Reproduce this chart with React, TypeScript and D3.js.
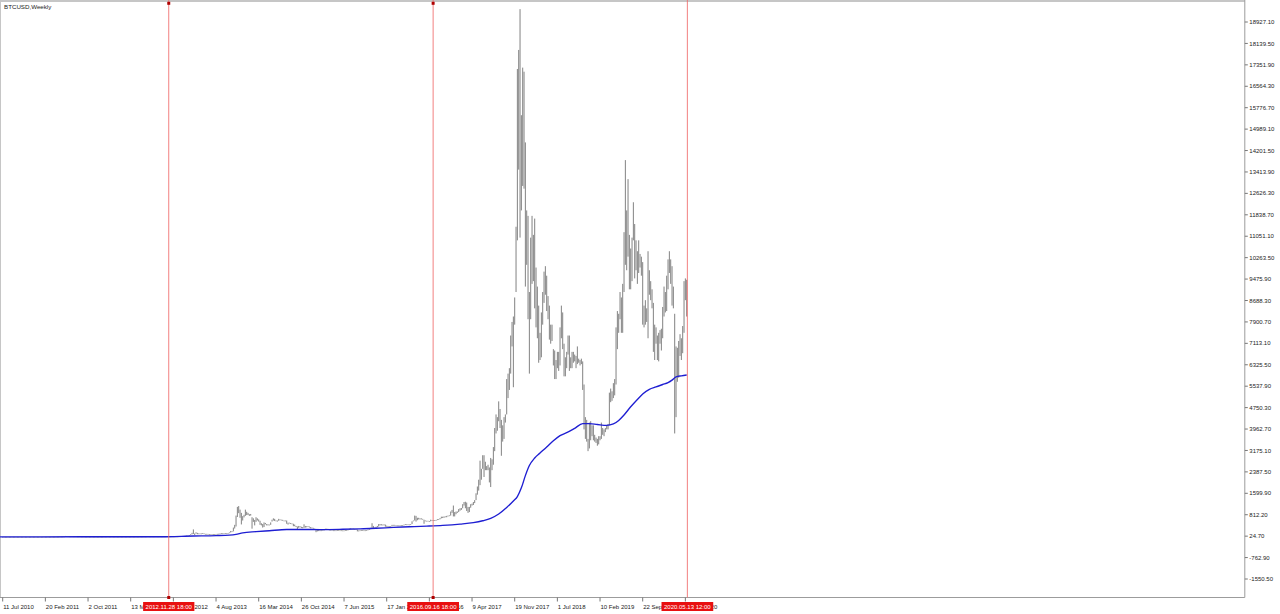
import React, { useEffect, useRef } from 'react';
import * as d3 from 'd3';

// weekly bars, [low, high] in USD, one pair per week (weeks start on Sunday)
const firstWeek = '11 Jul 2010';

const weeks2010: [number, number][] = [
  [0.05, 0.09], [0.06, 0.08], [0.06, 0.07],
  [0.06, 0.07], [0.06, 0.07], [0.06, 0.07], [0.06, 0.07], [0.06, 0.07],
  [0.06, 0.07], [0.06, 0.07], [0.06, 0.07], [0.06, 0.07],
  [0.06, 0.07], [0.07, 0.11], [0.09, 0.11], [0.1, 0.19], [0.17, 0.19],
  [0.19, 0.39], [0.21, 0.28], [0.26, 0.29], [0.22, 0.28],
  [0.19, 0.23], [0.2, 0.24], [0.24, 0.27], [0.25, 0.3],
];

const weeks2011: [number, number][] = [
  [0.29, 0.32], [0.31, 0.4], [0.38, 0.42], [0.42, 0.47], [0.45, 0.55],
  [0.7, 0.95], [0.95, 1.1], [0.8, 0.96], [0.86, 0.95],
  [0.86, 0.9], [0.75, 0.9], [0.78, 0.85], [0.77, 0.82],
  [0.68, 0.79], [0.7, 1.0], [1.0, 1.3], [1.5, 3.5],
  [3.0, 4.0], [3.6, 6.0], [6.5, 8.4], [6.5, 8.8], [8.4, 10.5],
  [14, 31.9], [15, 29], [10, 20], [13, 17],
  [13, 15.5], [14, 15.5], [13, 14.6], [13.3, 14.5], [12.8, 14],
  [7, 11], [9.5, 11.5], [8.5, 11], [8.2, 9],
  [6.4, 8.5], [4.5, 7], [4.6, 6.3], [4.6, 5.3],
  [4.8, 5.2], [3.8, 4.5], [2.4, 4.3], [2.6, 3.6], [3.1, 3.4],
  [2.8, 3.1], [2.1, 3.0], [2.1, 2.6], [2.3, 3.1],
  [2.9, 3.2], [3.0, 3.4], [3.6, 4.0], [4.0, 4.8],
];

const weeks2012: [number, number][] = [
  [4.7, 6.9], [6.4, 7.1], [5.9, 7], [5.8, 6.4], [5.4, 6.2],
  [5.5, 6.0], [4.2, 5.7], [4.2, 5.2], [4.7, 5.1],
  [4.6, 5.0], [4.8, 5.4], [4.6, 5.0], [4.7, 4.9],
  [4.8, 5.0], [4.8, 5.0], [4.9, 5.2], [5.0, 5.2], [4.9, 5.1],
  [5.0, 5.2], [4.9, 5.1], [5.0, 5.2], [5.1, 5.3],
  [5.2, 5.6], [5.5, 5.9], [6.2, 6.8], [6.4, 6.7],
  [6.6, 7.0], [6.9, 7.6], [7.6, 8.9], [8.4, 9.0], [8.9, 9.4],
  [10, 11], [11.1, 13.5], [7.5, 13.0], [10, 11],
  [10.2, 11], [10.9, 11.4], [11.5, 12.3], [12.0, 12.5], [12.1, 12.8],
  [11.4, 12.1], [11.4, 12], [11.4, 11.9], [10.5, 11.3],
  [10.5, 10.9], [10.8, 11.4], [11.5, 12.0], [12.0, 12.5],
  [12.4, 13.6], [13.2, 13.6], [13.0, 13.4], [13.3, 13.5], [13.3, 13.6],
];

const weeks2013: [number, number][] = [
  [13.4, 14.3], [14.0, 15.6], [15.5, 18.9], [17.1, 20.4],
  [19.6, 22.5], [22.1, 25.5], [24.5, 30.1], [29.4, 34.4],
  [33, 46.9], [42, 48], [44, 64], [64, 95], [92, 147],
  [105, 272], [65, 125], [115, 165], [95, 145],
  [100, 125], [105, 125], [115, 125], [120, 135],
  [112, 128], [96, 110], [97, 110], [90, 108], [65, 98],
  [68, 90], [88, 100], [86, 98], [89, 99],
  [92, 106], [100, 110], [100, 114], [110, 125],
  [118, 140], [118, 130], [120, 130], [122, 136], [110, 130],
  [120, 135], [135, 162], [160, 215], [180, 205],
  [200, 340], [305, 440], [380, 780], [730, 1100],
  [870, 1130], [700, 1000], [455, 880], [600, 760], [715, 810],
];

const weeks2014: [number, number][] = [
  [770, 1000], [800, 920], [800, 880], [770, 830],
  [780, 840], [300, 720], [550, 680], [420, 620],
  [550, 720], [600, 680], [560, 640], [440, 590], [420, 500],
  [340, 470], [360, 530], [460, 510], [420, 470],
  [420, 460], [430, 450], [440, 530], [560, 630],
  [600, 680], [580, 660], [570, 600], [560, 600], [590, 660],
  [610, 640], [610, 630], [590, 625], [570, 600],
  [570, 600], [480, 600], [450, 520], [490, 520], [470, 510],
  [460, 490], [390, 480], [390, 450], [360, 400],
  [280, 380], [330, 400], [350, 390], [320, 370],
  [315, 360], [330, 460], [340, 400], [350, 390], [360, 390],
  [340, 380], [310, 360], [310, 340], [310, 330],
];

const weeks2015: [number, number][] = [
  [260, 300], [170, 280], [200, 260], [210, 260],
  [210, 245], [215, 240], [230, 260], [230, 260],
  [250, 300], [260, 300], [250, 295], [235, 270], [240, 260],
  [240, 260], [215, 240], [215, 240], [220, 240],
  [230, 245], [235, 245], [230, 240], [230, 240], [220, 235],
  [220, 235], [230, 250], [240, 250], [245, 265],
  [255, 300], [270, 315], [270, 300], [280, 300],
  [270, 290], [260, 285], [200, 270], [200, 235], [225, 240],
  [230, 245], [225, 245], [225, 240], [235, 240],
  [235, 250], [245, 270], [260, 285], [280, 330],
  [330, 500], [310, 400], [315, 340], [320, 370], [350, 400],
  [380, 470], [420, 470], [420, 465], [420, 450],
];

const weeks2016: [number, number][] = [
  [420, 460], [370, 450], [370, 410], [360, 400], [360, 390],
  [370, 390], [390, 440], [410, 440], [410, 440],
  [410, 425], [405, 420], [410, 420], [410, 425],
  [415, 425], [420, 430], [425, 450], [440, 470],
  [440, 460], [440, 460], [440, 455], [440, 470], [470, 570],
  [570, 600], [600, 780], [560, 770], [610, 700],
  [640, 700], [640, 680], [640, 680], [640, 660], [480, 630],
  [570, 600], [570, 590], [570, 590], [570, 580],
  [570, 630], [600, 620], [590, 610], [600, 615],
  [605, 620], [615, 650], [625, 650], [645, 690], [680, 740],
  [690, 740], [700, 750], [720, 750], [720, 770],
  [750, 780], [760, 790], [780, 930], [880, 990],
];

const weeks2017: [number, number][] = [
  [750, 1150], [750, 910], [830, 930], [880, 930], [910, 1020],
  [960, 1050], [990, 1060], [1050, 1200], [1150, 1280],
  [1050, 1290], [950, 1260], [880, 1100], [910, 1100],
  [1070, 1200], [1150, 1220], [1170, 1280], [1240, 1350], [1350, 1600],
  [1550, 1850], [1700, 2100], [1900, 2800], [2100, 2500],
  [2500, 3000], [2200, 3000], [2450, 2760], [2450, 2600],
  [2450, 2650], [2000, 2550], [1830, 2900], [2450, 2850], [2650, 3300],
  [3150, 4000], [3800, 4500], [3900, 4400], [4250, 4980],
  [4000, 4700], [2980, 4300], [3500, 4100], [3600, 4400],
  [4200, 4500], [4500, 5800], [5100, 6000], [5400, 6200], [6000, 7400],
  [7000, 7900], [5500, 8100], [7800, 8800], [9000, 11400],
  [10900, 17200], [13500, 17900], [11000, 19400], [12000, 15500],
];

const weeks2018: [number, number][] = [
  [12900, 17250], [12800, 17100], [9200, 14500], [10000, 12000], [8000, 11800],
  [6000, 9000], [8000, 11000], [9300, 11800], [9400, 11100],
  [8400, 11700], [7700, 9900], [7300, 9200], [6400, 8500],
  [6500, 7500], [6600, 8250], [7800, 9000], [8600, 9750], [8900, 9950],
  [8300, 9600], [8000, 8850], [7250, 8500], [7100, 7800],
  [7200, 7800], [6300, 6900], [5800, 6850], [5800, 6500],
  [6200, 6800], [6100, 6800], [6300, 7700], [7300, 8500], [6900, 8250],
  [5900, 7100], [5900, 6600], [6200, 6800], [6700, 7400],
  [6100, 7400], [6200, 6600], [6200, 6800], [6400, 6800], [6450, 6700],
  [6200, 6650], [6350, 7000], [6400, 6550], [6300, 6500],
  [6350, 6550], [5400, 6450], [3950, 5600], [3600, 4400],
  [3500, 4300], [3150, 3600], [3250, 4200], [3550, 4250],
];

const weeks2019: [number, number][] = [
  [3700, 4100], [3550, 4100], [3500, 3750], [3450, 3650], [3350, 3600],
  [3400, 3700], [3550, 3700], [3600, 4200], [3750, 4000],
  [3700, 3950], [3850, 4000], [3950, 4100], [3950, 4150],
  [4100, 5300], [4950, 5450], [5000, 5350], [5100, 5650],
  [5200, 5800], [5600, 7700], [6900, 8300], [7500, 8200], [8000, 9000],
  [7500, 8800], [7500, 9300], [9000, 11200], [10000, 13850],
  [9800, 12000], [10300, 13150], [9100, 11100], [9100, 10600],
  [9400, 11000], [10900, 12300], [9500, 11500], [9800, 10900], [9300, 10500],
  [9700, 10900], [9900, 10400], [9600, 10300], [7800, 10100],
  [7700, 8500], [7800, 8700], [7900, 8400], [7300, 10500],
  [8900, 9800], [8700, 9400], [8400, 9100], [6800, 8600],
  [6500, 7800], [7100, 7700], [6500, 7400], [6450, 7500], [7100, 7600],
];

const weeks2020: [number, number][] = [
  [6850, 7650], [7300, 8450], [8100, 9200], [8250, 9000], [8300, 9600],
  [9100, 10200], [9700, 10500], [9300, 10200], [8500, 9950],
  [8400, 9200], [3800, 8200], [4400, 7000], [5700, 6950],
  [5850, 7200], [6650, 7450], [6500, 7300], [6750, 7750], [7500, 9400],
  [8700, 9500], [8100, 9450],
];

// blue moving average, read at a few weeks (week number counted from firstWeek)
const maWeek = [
  -2, 60, 118, 143, 160, 170, 175, 180, 190, 200, 213, 225, 238, 255, 268, 280,
  293, 305, 318, 330, 343, 353, 360, 366, 372, 378, 383, 386, 389, 392, 395,
  399, 403, 408, 413, 418, 423, 429, 435, 440, 446, 453, 458, 462, 466, 471,
  476, 480, 485, 490, 495, 499, 502, 505, 509, 513,
];
const maValue = [
  0, 1, 4, 30, 45, 62, 90, 147, 190, 225, 268, 270, 265, 278, 294, 315,
  346, 370, 393, 420, 467, 520, 590, 680, 840, 1080, 1320, 1480, 1800, 2250, 2620,
  2900, 3080, 3300, 3530, 3720, 3830, 3990, 4160, 4160, 4130, 4100, 4150, 4280, 4480, 4780,
  5050, 5250, 5420, 5510, 5600, 5670, 5760, 5880, 5920, 5950,
];

const priceLabels = [
  '18927.10', '18139.50', '17351.90', '16564.30', '15776.70', '14989.10',
  '14201.50', '13413.90', '12626.30', '11838.70', '11051.10', '10263.50',
  '9475.90', '8688.30', '7900.70', '7113.10', '6325.50', '5537.90',
  '4750.30', '3962.70', '3175.10', '2387.50', '1599.90', '812.20',
  '24.70', '-762.90', '-1550.50',
];

const dateLabels = [
  '11 Jul 2010', '20 Feb 2011', '2 Oct 2011', '13 May 2012', '23 Dec 2012',
  '4 Aug 2013', '16 Mar 2014', '26 Oct 2014', '7 Jun 2015', '17 Jan 2016',
  '28 Aug 2016', '9 Apr 2017', '19 Nov 2017', '1 Jul 2018', '10 Feb 2019',
  '22 Sep 2019', '3 May 2020',
];

const markerTimes = ['2012.11.28 18:00', '2016.09.16 18:00', '2020.05.13 12:00'];

const chartTitle = 'BTCUSD,Weekly';

const W = 1280;
const H = 614;
const plotRight = 1244.8;
const plotBottom = 597.5;
const font = '"Liberation Sans", Arial, sans-serif';

const App: React.FC = () => {
  const svgRef = useRef<SVGSVGElement>(null);

  useEffect(() => {
    if (!svgRef.current) return;
    const svg = d3.select(svgRef.current);
    svg.selectAll('*').remove();

    const parseDate = d3.utcParse('%d %b %Y');
    const parseMarker = d3.utcParse('%Y.%m.%d %H:%M');
    const start = parseDate(firstWeek) as Date;

    const x = d3.scaleUtc()
      .domain([parseDate(dateLabels[0]) as Date, parseDate(dateLabels[15]) as Date])
      .range([2.7, 642.7]);
    const y = d3.scaleLinear().domain([-1550.5, 18927.1]).range([579, 22]);

    const bars = [
      ...weeks2010, ...weeks2011, ...weeks2012, ...weeks2013, ...weeks2014,
      ...weeks2015, ...weeks2016, ...weeks2017, ...weeks2018, ...weeks2019, ...weeks2020,
    ];
    const weekX = (i: number) => x(d3.utcDay.offset(start, i * 7));

    svg.append('rect').attr('width', W).attr('height', H).attr('fill', '#ffffff');

    // frame
    svg.append('line').attr('x1', 0).attr('x2', plotRight).attr('y1', 1).attr('y2', 1)
      .attr('stroke', '#c6c6c6').attr('stroke-width', 2);
    svg.append('line').attr('x1', 0.5).attr('x2', 0.5).attr('y1', 0).attr('y2', plotBottom)
      .attr('stroke', '#c6c6c6');
    svg.append('line').attr('x1', plotRight).attr('x2', plotRight).attr('y1', 0).attr('y2', plotBottom)
      .attr('stroke', '#9c9c9c');
    svg.append('line').attr('x1', 0).attr('x2', plotRight).attr('y1', plotBottom).attr('y2', plotBottom)
      .attr('stroke', '#9c9c9c');

    // price bars
    svg.append('g')
      .selectAll('line')
      .data(bars)
      .enter()
      .append('line')
      .attr('x1', (d, i) => weekX(i))
      .attr('x2', (d, i) => weekX(i))
      .attr('y1', d => y(d[1]))
      .attr('y2', d => Math.max(y(d[0]), y(d[1]) + 0.8))
      .attr('stroke', '#828282')
      .attr('stroke-width', 1);

    // moving average
    const maLine = d3.line<number>()
      .x((d, i) => weekX(maWeek[i]))
      .y(d => y(d))
      .curve(d3.curveMonotoneX);
    svg.append('path')
      .attr('d', maLine(maValue) as string)
      .attr('fill', 'none')
      .attr('stroke', '#1e1ed2')
      .attr('stroke-width', 1.35);

    // vertical markers
    const markers = markerTimes.map(t => ({ t, xPos: x(parseMarker(t) as Date) }));
    svg.append('g')
      .selectAll('line')
      .data(markers)
      .enter()
      .append('line')
      .attr('x1', d => d.xPos)
      .attr('x2', d => d.xPos)
      .attr('y1', 0)
      .attr('y2', plotBottom)
      .attr('stroke', '#f06a6a')
      .attr('stroke-width', 0.85);

    markers.slice(0, 2).forEach(m => {
      [3.3, plotBottom].forEach(cy => {
        svg.append('rect')
          .attr('x', m.xPos - 1.5)
          .attr('y', cy - 1.5)
          .attr('width', 3)
          .attr('height', 3)
          .attr('fill', '#b00000');
      });
    });

    // price axis
    const pAxis = svg.append('g');
    priceLabels.forEach(label => {
      const v = parseFloat(label);
      pAxis.append('line')
        .attr('x1', plotRight).attr('x2', plotRight + 3)
        .attr('y1', y(v)).attr('y2', y(v))
        .attr('stroke', '#777');
      pAxis.append('text')
        .attr('x', plotRight + 4.5)
        .attr('y', y(v))
        .attr('dy', '0.35em')
        .attr('fill', '#222')
        .style('font-family', font)
        .style('font-size', '6px')
        .text(label);
    });

    // time axis
    const tAxis = svg.append('g');
    dateLabels.forEach(label => {
      const xp = x(parseDate(label) as Date);
      tAxis.append('line')
        .attr('x1', xp).attr('x2', xp)
        .attr('y1', plotBottom).attr('y2', plotBottom + 4)
        .attr('stroke', '#777');
      tAxis.append('text')
        .attr('x', xp + 0.5)
        .attr('y', 608.5)
        .attr('fill', '#222')
        .style('font-family', font)
        .style('font-size', '6px')
        .text(label);
    });

    // marker labels on the time axis, drawn over the date labels
    markers.forEach(m => {
      const g = svg.append('g');
      const txt = g.append('text')
        .attr('x', m.xPos)
        .attr('y', 608.6)
        .attr('text-anchor', 'middle')
        .attr('fill', '#ffffff')
        .style('font-family', font)
        .style('font-size', '6px')
        .text(m.t);
      const w = (txt.node() as SVGTextElement).getComputedTextLength();
      g.insert('rect', 'text')
        .attr('x', m.xPos - w / 2 - 2.5)
        .attr('y', 602)
        .attr('width', w + 5)
        .attr('height', 9)
        .attr('fill', '#e81010');
    });

    svg.append('text')
      .attr('x', 4)
      .attr('y', 9)
      .attr('fill', '#222')
      .style('font-family', font)
      .style('font-size', '6.2px')
      .text(chartTitle);
  }, []);

  return (
    <div style={{ position: 'absolute', left: 0, top: 0, width: W, height: H, background: '#fff' }}>
      <svg ref={svgRef} width={W} height={H} style={{ display: 'block' }} />
    </div>
  );
};

export default App;
